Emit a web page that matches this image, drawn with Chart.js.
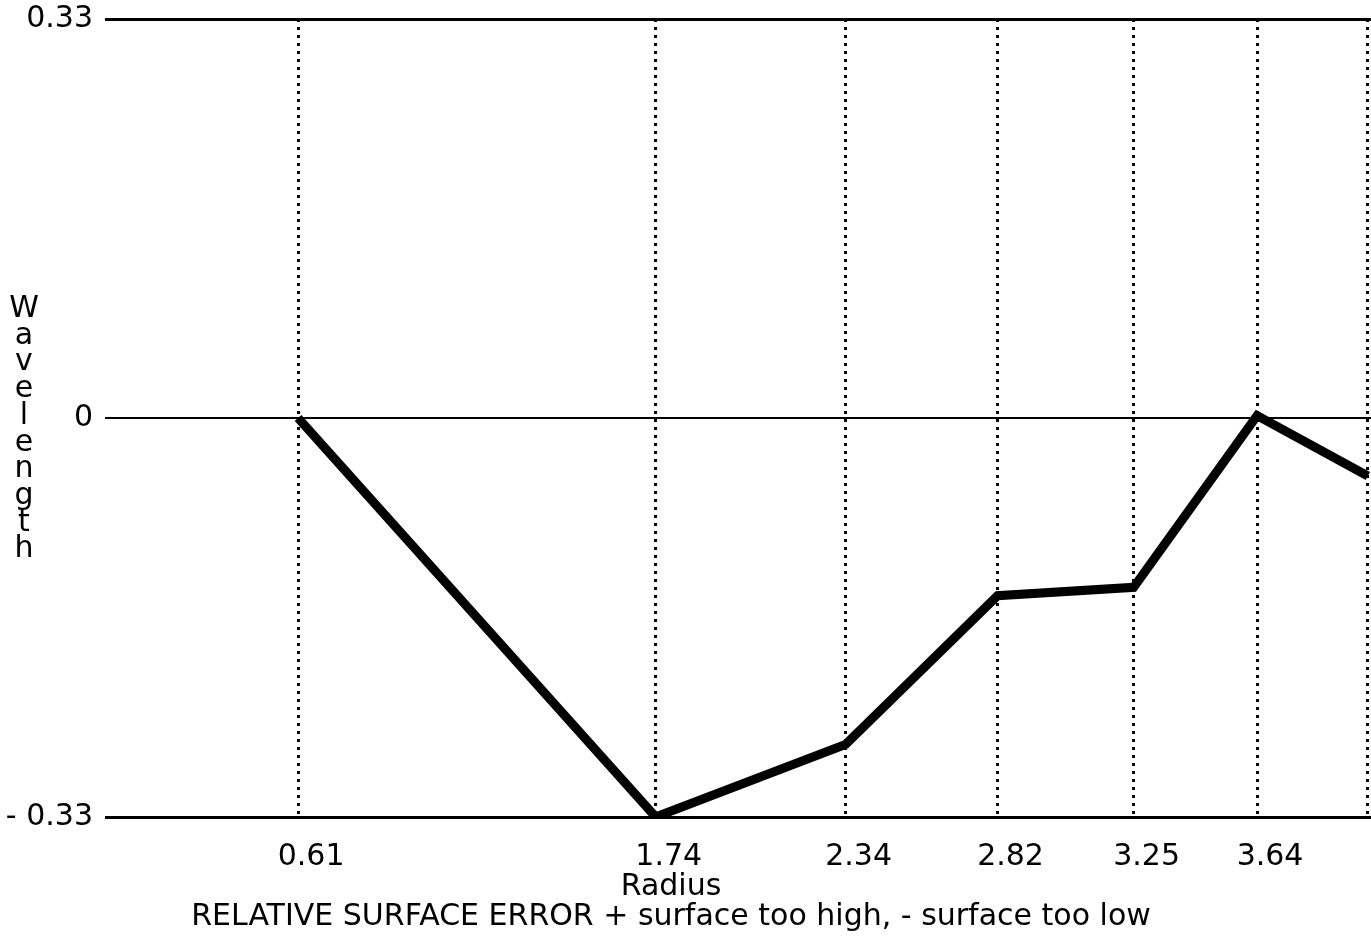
<!DOCTYPE html>
<html>
<head>
<meta charset="utf-8">
<title>Relative surface error</title>
<script src="https://cdn.jsdelivr.net/npm/chart.js@4.4.1/dist/chart.umd.min.js"></script>
<style>
  html, body { margin: 0; padding: 0; background: #fff; }
  #wrap { width: 1371px; height: 937px; position: relative; }
</style>
</head>
<body>
<div id="wrap"><canvas id="chart"></canvas></div>
<script>
// zone radii and the measured error at each one (in wavelengths)
const radius = [0.61, 1.74, 2.34, 2.82, 3.25, 3.64, 3.99];
const radiusLabels = ["0.61", "1.74", "2.34", "2.82", "3.25", "3.64", ""];
const surfaceError = [0, -0.33, -0.27, -0.147, -0.14, 0.002, -0.048];

const waveTicks = [-0.33, 0, 0.33];
const waveTickLabels = ["- 0.33", "0", "0.33"];

const yTitle = "Wavelength";
const xTitle = "Radius";
const caption = "RELATIVE SURFACE ERROR + surface too high, - surface too low";

const FONT = '"DejaVu Sans", "Liberation Sans", Arial, sans-serif';

// axis titles are drawn by hand: stacked letters on the left, two lines below
const axisText = {
  id: "axisText",
  afterDraw(chart) {
    const ctx = chart.ctx;
    ctx.save();
    ctx.fillStyle = "#000";
    ctx.font = "30px " + FONT;
    ctx.textAlign = "center";
    ctx.textBaseline = "alphabetic";
    yTitle.split("").forEach((ch, i) => {
      ctx.fillText(ch, 24, 317 + i * 26.7);
    });
    ctx.fillText(xTitle, 671, 895);
    ctx.fillText(caption, 671, 925);
    ctx.restore();
  }
};

const ctx = document.getElementById("chart").getContext("2d");

new Chart(ctx, {
  type: "line",
  data: {
    datasets: [
      {
        data: radius.map((r, i) => ({ x: r, y: surfaceError[i] })),
        borderColor: "#000",
        borderWidth: 9,
        borderJoinStyle: "miter",
        pointRadius: 0,
        tension: 0,
        fill: false,
      },
    ],
  },
  options: {
    responsive: true,
    maintainAspectRatio: false,
    animation: false,
    layout: { padding: { top: 19, right: 0, left: 0, bottom: 0 } },
    plugins: {
      legend: { display: false },
      tooltip: { enabled: false },
    },
    scales: {
      x: {
        type: "linear",
        min: 0,
        max: 4.0,
        afterBuildTicks: (scale) => {
          scale.ticks = radius.map((v) => ({ value: v }));
        },
        afterFit: (scale) => {
          // plot runs right to the edge of the page
          scale.height = 120;
          scale.paddingLeft = 0;
          scale.paddingRight = 0;
        },
        ticks: {
          color: "#000",
          font: { family: FONT, size: 30 },
          padding: 22,
          labelOffset: 13,
          maxRotation: 0,
          autoSkip: false,
          callback: (value, index) => radiusLabels[index],
        },
        grid: {
          color: "#000",
          lineWidth: 3,
          drawTicks: false,
        },
        border: { display: false, dash: [3, 5] },
      },
      y: {
        min: -0.33,
        max: 0.33,
        afterBuildTicks: (scale) => {
          scale.ticks = waveTicks.map((v) => ({ value: v }));
        },
        afterFit: (scale) => {
          scale.width = 105;
          scale.paddingTop = 0;
          scale.paddingBottom = 0;
        },
        ticks: {
          color: "#000",
          font: { family: FONT, size: 30 },
          padding: 12,
          callback: (value, index) => waveTickLabels[index],
        },
        grid: {
          color: "#000",
          lineWidth: (c) => (c.tick && c.tick.value === 0 ? 2 : 3),
          drawTicks: false,
        },
        border: { display: false },
      },
    },
  },
  plugins: [axisText],
});
</script>
</body>
</html>
